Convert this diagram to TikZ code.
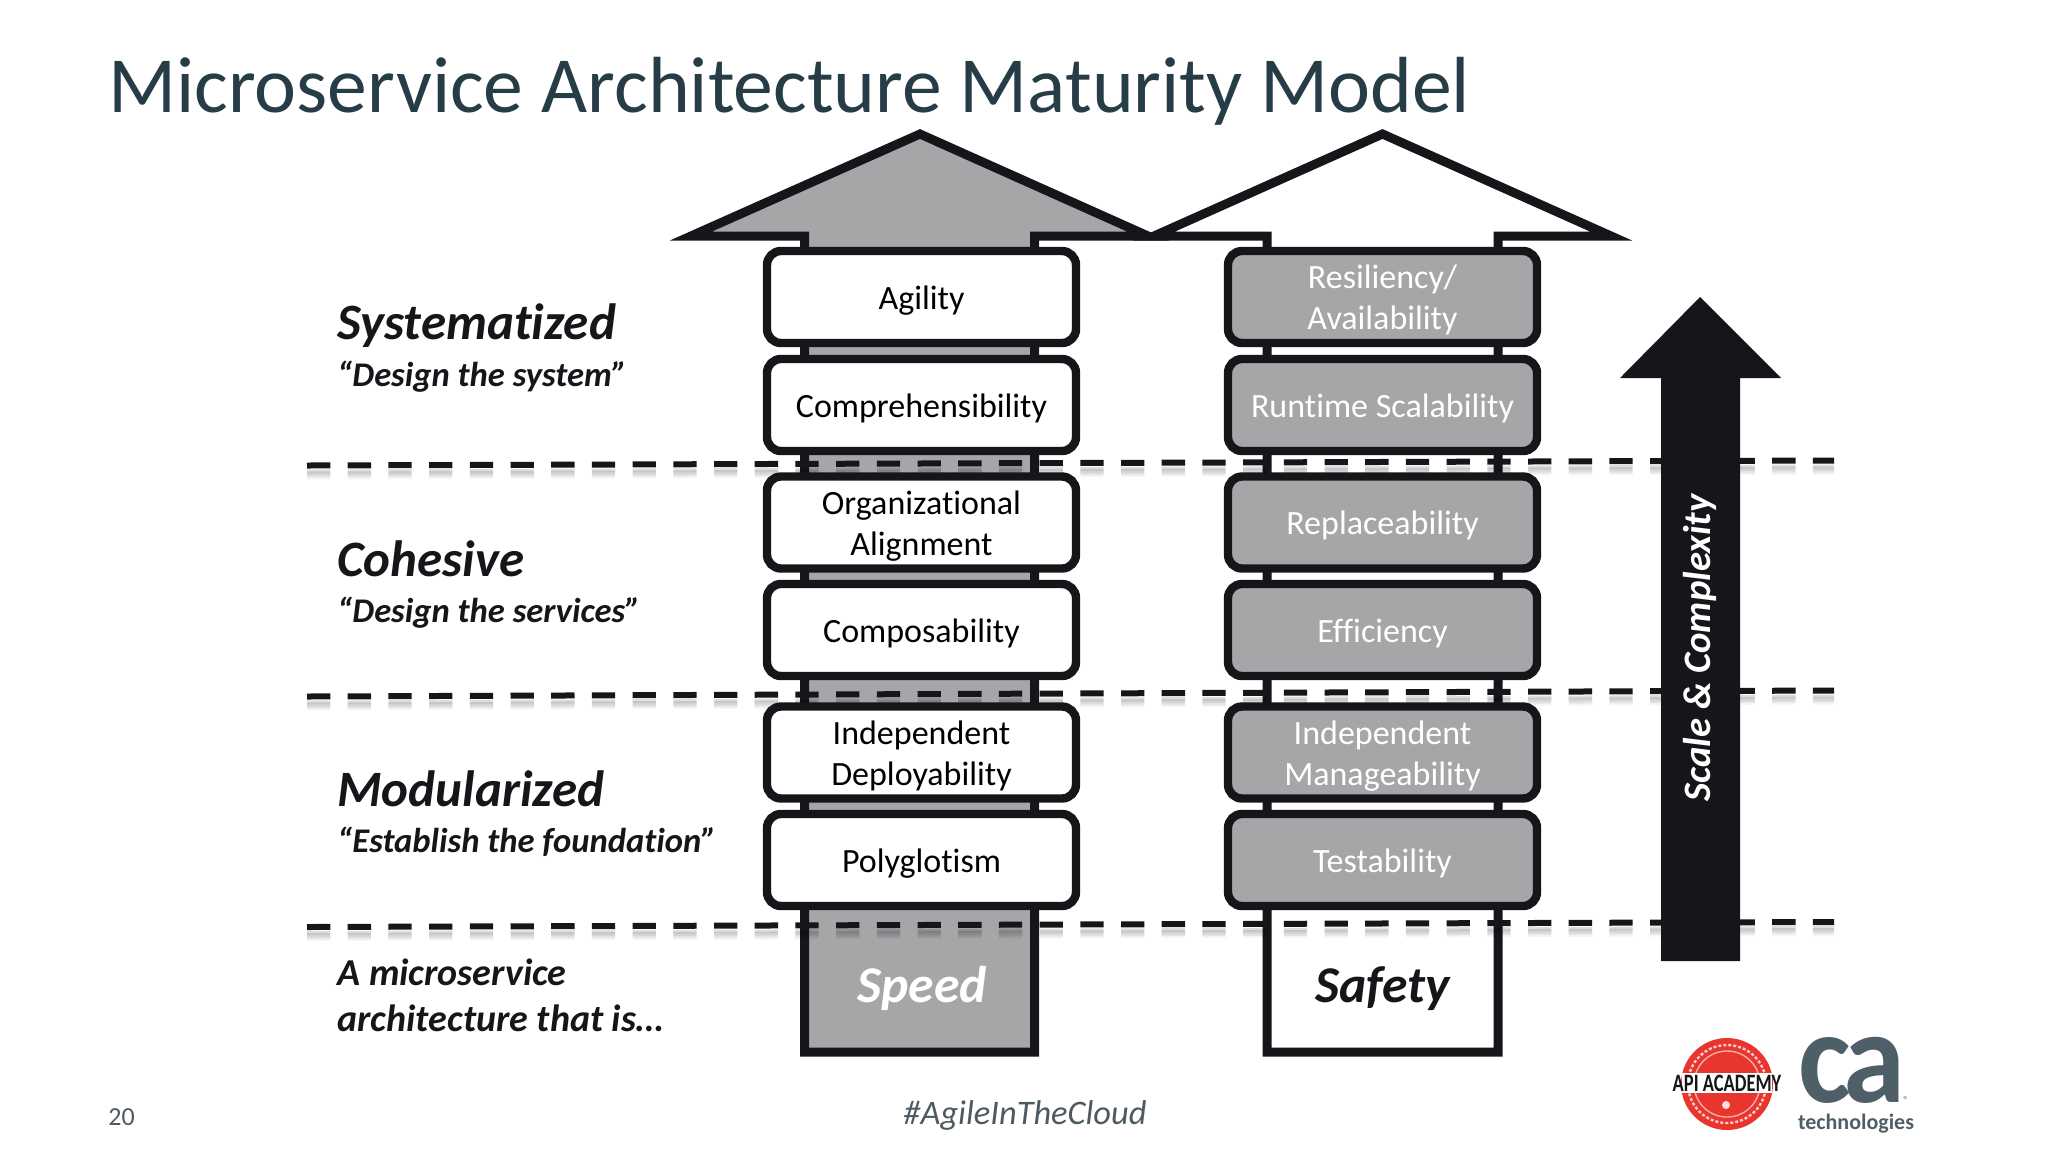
\documentclass[tikz,border=0pt]{standalone}
\usepackage{fontspec}
\setmainfont{Carlito}[Ligatures=NoCommon]
\usetikzlibrary{calc}
\definecolor{ink}{HTML}{141619}
\definecolor{boxgray}{HTML}{A5A6A8}
\definecolor{titlecol}{HTML}{263C46}
\definecolor{footcol}{HTML}{4D5A60}
\definecolor{cagray}{HTML}{4F5F68}
\definecolor{apired}{HTML}{E8352E}
\newcommand{\fs}[1]{\fontsize{#1}{#1}\selectfont}
\tikzset{
  outline/.style={draw=ink,line width=4.5pt,miter limit=10},
  stage/.style={outline,line width=4.2pt,rounded corners=7pt,minimum width=154.5pt,minimum height=46pt,inner sep=0pt,align=center,font=\fontsize{17}{20.5}\selectfont},
  one/.style={text height=14pt,text depth=2pt},
  two/.style={text height=34.5pt,text depth=2pt},
  lbox/.style={stage,fill=white,text=black},
  rbox/.style={stage,fill=boxgray,text=white},
  level/.style={anchor=base west,font=\fs{25.5}\bfseries\itshape,text=ink,inner sep=0pt},
  quote/.style={anchor=base west,font=\fs{17.3}\bfseries\itshape,text=ink,inner sep=0pt},
  divider/.style={draw=ink,line width=3pt,dash pattern=on 11.65pt off 8.7pt},
  dshadow/.style={draw=black,line width=2pt,dash pattern=on 11.65pt off 8.7pt},
}
\begin{document}
\begin{tikzpicture}[x=0.5pt,y=-0.5pt]
\useasboundingbox (0,0) rectangle (2048,1152);
% title
\node[anchor=base west,inner sep=0pt,text=titlecol,font=\fs{39.8}] (title) at (108,112) {Microservice Architecture Maturity Model};
% arrows
\path[outline,fill=boxgray] (920,134) -- (691,236) -- (804.5,236) -- (804.5,1052) -- (1034.5,1052) -- (1034.5,236) -- (1148,236) -- cycle;
\path[outline,fill=white] (1382.5,134) -- (1154,236) -- (1267,236) -- (1267,1052) -- (1498,1052) -- (1498,236) -- (1611,236) -- cycle;
% dividers
\foreach \ya/\yb/\nm in {465.5/460.5/a,696.5/690.5/b,927/922/c}{
  \coordinate (d\nm w) at (307,\ya);
  \coordinate (d\nm e) at (1834,\yb);
  \foreach \off/\op in {12/.04,10/.07,8/.1,6/.13}{
    \draw[dshadow,opacity=\op] ($(d\nm w)+(0,\off)$) -- ($(d\nm e)+(0,\off)$);
  }
  \draw[divider] (d\nm w) -- (d\nm e);
}
% left column
\node[lbox,one] (agility) at (921.5,297) {Agility};
\node[lbox,one] (compre) at (921.5,405) {Comprehensibility};
\node[lbox,two] (org) at (921.5,522.5) {Organizational\\Alignment};
\node[lbox,one] (compos) at (921.5,630) {Composability};
\node[lbox,two] (indep) at (921.5,752.5) {Independent\\Deployability};
\node[lbox,one] (poly) at (921.5,860) {Polyglotism};
% right column
\node[rbox,two] (resil) at (1382.5,297) {Resiliency/\\Availability};
\node[rbox,one] (runtime) at (1382.5,405) {Runtime Scalability};
\node[rbox,one] (replace) at (1382.5,522.5) {Replaceability};
\node[rbox,one] (effic) at (1382.5,630) {Efficiency};
\node[rbox,two] (manage) at (1382.5,752.5) {Independent\\Manageability};
\node[rbox,one] (test) at (1382.5,860) {Testability};
% base labels
\node[anchor=base,inner sep=0pt,text=white,font=\fs{25.8}\bfseries\itshape] (speed) at (922,1002) {Speed};
\node[anchor=base,inner sep=0pt,text=ink,font=\fs{25.8}\bfseries\itshape] (safety) at (1382.5,1002) {Safety};
% left texts
\node[level] (sys) at (337,339.5) {Systematized};
\node[quote] (sysq) at (337,386) {“Design the system”};
\node[level] (coh) at (337,576.5) {Cohesive};
\node[quote] (cohq) at (337,622.5) {“Design the services”};
\node[level] (mod) at (337,806.5) {Modularized};
\node[quote] (modq) at (337,852) {“Establish the foundation”};
\node[quote,font=\fs{19}\bfseries\itshape] (ama) at (337,985) {A microservice};
\node[quote,font=\fs{19}\bfseries\itshape] (amb) at (337,1031) {architecture that is…};
% scale arrow
\path[fill=ink] (1700,297) -- (1781,378) -- (1740,378) -- (1740,961) -- (1661,961) -- (1661,378) -- (1620,378) -- cycle;
\node[rotate=90,inner sep=0pt,text=white,font=\fs{19.4}\bfseries\itshape] (scale) at (1699.5,648) {Scale \& Complexity};
% footer
\node[anchor=base west,inner sep=0pt,text=footcol,font=\fs{13}] (page) at (108,1125) {20};
\node[anchor=base,inner sep=0pt,text=footcol,font=\fs{17.2}\itshape] (tag) at (1025,1124) {\#AgileInTheCloud};
% API academy logo
\node[circle,fill=apired,minimum size=46pt,inner sep=0pt] (api) at (1727,1084) {};
\draw[white,opacity=.75,line width=1.2pt,dash pattern=on 1.5pt off 1pt] (api.center) circle[radius=39];
\draw[white,opacity=.6,line width=.7pt] (api.center) circle[radius=33];
\fill[white] (1682,1073) rectangle (1772,1093);
\fill[white,opacity=.85] (1726,1105) circle[radius=4];
\node[inner sep=0pt,text=ink,font=\fs{12.5}\bfseries] (apit) at (1727,1083) {\scalebox{.74}[1]{API ACADEMY}};
% CA logo
\node[anchor=base,inner sep=0pt,text=cagray,font=\fs{66}\bfseries] (ca) at (1852,1102) {\scalebox{.95}[1]{\addfontfeature{LetterSpace=-6}ca}};
\node[anchor=base,inner sep=0pt,text=cagray,font=\fs{11}\bfseries] (tech) at (1856,1129) {technologies};
\node[inner sep=0pt,text=cagray,font=\fs{5}] (reg) at (1906,1100) {®};
\end{tikzpicture}
\end{document}
